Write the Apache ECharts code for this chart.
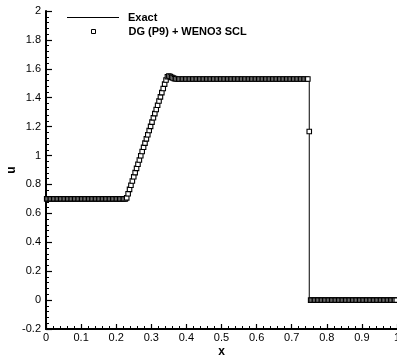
<!DOCTYPE html>
<html>
<head>
<meta charset="utf-8">
<script src="https://cdn.jsdelivr.net/npm/echarts@6/dist/echarts.min.js"></script>
<style>
html,body{margin:0;padding:0;background:#fff;}
#c{width:397px;height:357px;}
</style>
</head>
<body>
<div id="c"></div>
<script>
// Exact solution (piecewise linear)
var exactX = [0, 0.229, 0.343, 0.75, 0.75, 1];
var exactU = [0.7, 0.7, 1.53, 1.53, 0, 0];

// DG (P9) + WENO3 SCL sample points
var dgX = [
0.002,0.006,0.01,0.014,0.018,0.022,0.026,0.03,0.034,0.038,
0.042,0.046,0.05,0.054,0.058,0.062,0.066,0.07,0.074,0.078,
0.082,0.086,0.09,0.094,0.098,0.102,0.106,0.11,0.114,0.118,
0.122,0.126,0.13,0.134,0.138,0.142,0.146,0.15,0.154,0.158,
0.162,0.166,0.17,0.174,0.178,0.182,0.186,0.19,0.194,0.198,
0.202,0.206,0.21,0.214,0.218,0.222,0.226,0.23,0.234,0.238,
0.242,0.246,0.25,0.254,0.258,0.262,0.266,0.27,0.274,0.278,
0.282,0.286,0.29,0.294,0.298,0.302,0.306,0.31,0.314,0.318,
0.322,0.326,0.33,0.334,0.338,0.342,0.346,0.35,0.354,0.358,
0.362,0.366,0.37,0.374,0.378,0.382,0.386,0.39,0.394,0.398,
0.402,0.406,0.41,0.414,0.418,0.422,0.426,0.43,0.434,0.438,
0.442,0.446,0.45,0.454,0.458,0.462,0.466,0.47,0.474,0.478,
0.482,0.486,0.49,0.494,0.498,0.502,0.506,0.51,0.514,0.518,
0.522,0.526,0.53,0.534,0.538,0.542,0.546,0.55,0.554,0.558,
0.562,0.566,0.57,0.574,0.578,0.582,0.586,0.59,0.594,0.598,
0.602,0.606,0.61,0.614,0.618,0.622,0.626,0.63,0.634,0.638,
0.642,0.646,0.65,0.654,0.658,0.662,0.666,0.67,0.674,0.678,
0.682,0.686,0.69,0.694,0.698,0.702,0.706,0.71,0.714,0.718,
0.722,0.726,0.73,0.734,0.738,0.742,0.746,0.75,0.754,0.758,
0.762,0.766,0.77,0.774,0.778,0.782,0.786,0.79,0.794,0.798,
0.802,0.806,0.81,0.814,0.818,0.822,0.826,0.83,0.834,0.838,
0.842,0.846,0.85,0.854,0.858,0.862,0.866,0.87,0.874,0.878,
0.882,0.886,0.89,0.894,0.898,0.902,0.906,0.91,0.914,0.918,
0.922,0.926,0.93,0.934,0.938,0.942,0.946,0.95,0.954,0.958,
0.962,0.966,0.97,0.974,0.978,0.982,0.986,0.99,0.994,0.998
];
var dgU = [
0.7,0.7,0.7,0.7,0.7,0.7,0.7,0.7,0.7,0.7,
0.7,0.7,0.7,0.7,0.7,0.7,0.7,0.7,0.7,0.7,
0.7,0.7,0.7,0.7,0.7,0.7,0.7,0.7,0.7,0.7,
0.7,0.7,0.7,0.7,0.7,0.7,0.7,0.7,0.7,0.7,
0.7,0.7,0.7,0.7,0.7,0.7,0.7,0.7,0.7,0.7,
0.7,0.7,0.7,0.7,0.7,0.7,0.7,0.707,0.736,0.766,
0.795,0.824,0.853,0.882,0.911,0.940,0.969,0.999,1.028,1.057,
1.086,1.115,1.144,1.173,1.202,1.231,1.261,1.290,1.319,1.348,
1.377,1.406,1.435,1.464,1.494,1.523,1.545,1.550,1.547,1.541,
1.536,1.532,1.531,1.53,1.53,1.53,1.53,1.53,1.53,1.53,
1.53,1.53,1.53,1.53,1.53,1.53,1.53,1.53,1.53,1.53,
1.53,1.53,1.53,1.53,1.53,1.53,1.53,1.53,1.53,1.53,
1.53,1.53,1.53,1.53,1.53,1.53,1.53,1.53,1.53,1.53,
1.53,1.53,1.53,1.53,1.53,1.53,1.53,1.53,1.53,1.53,
1.53,1.53,1.53,1.53,1.53,1.53,1.53,1.53,1.53,1.53,
1.53,1.53,1.53,1.53,1.53,1.53,1.53,1.53,1.53,1.53,
1.53,1.53,1.53,1.53,1.53,1.53,1.53,1.53,1.53,1.53,
1.53,1.53,1.53,1.53,1.53,1.53,1.53,1.53,1.53,1.53,
1.53,1.53,1.53,1.53,1.53,1.53,1.53,1.166,0,0,
0,0,0,0,0,0,0,0,0,0,
0,0,0,0,0,0,0,0,0,0,
0,0,0,0,0,0,0,0,0,0,
0,0,0,0,0,0,0,0,0,0,
0,0,0,0,0,0,0,0,0,0,
0,0,0,0,0,0,0,0,0,0
];

var seriesNames = ['Exact', 'DG (P9) + WENO3 SCL'];

var exactData = exactX.map(function (x, i) { return [x, exactU[i]]; });
var dgData = dgX.map(function (x, i) { return [x, dgU[i]]; });

var chart = echarts.init(document.getElementById('c'), null, {renderer: 'canvas'});
var font = 'Liberation Sans, Arial, Helvetica, sans-serif';
var legendText = {color: '#000', fontFamily: font, fontWeight: 'bold', fontSize: 11, padding: [0, 0, 0, 4]};

chart.setOption({
  animation: false,
  backgroundColor: '#fff',
  grid: {left: 46, right: 0, top: 11, bottom: 28, containLabel: false, outerBoundsMode: 'none'},
  legend: [
    {data: [{name: seriesNames[0], icon: 'rect'}], left: 67, top: 12, padding: 0, itemWidth: 52, itemHeight: 1,
     itemStyle: {color: '#000', borderWidth: 0},
     textStyle: legendText, selectedMode: false},
    {data: [{name: seriesNames[1], icon: 'path://M0,0M52,4M24,0L28,0L28,4L24,4Z'}], left: 67, top: 26, padding: 0,
     itemWidth: 52, itemHeight: 4, symbolKeepAspect: false,
     itemStyle: {color: '#fff', borderColor: '#000', borderWidth: 1},
     textStyle: legendText, selectedMode: false}
  ],
  xAxis: {
    type: 'value', min: 0, max: 1, interval: 0.1,
    name: 'x', nameLocation: 'middle', nameGap: 17, nameMoveOverlap: false,
    nameTextStyle: {color: '#000', fontFamily: font, fontWeight: 'bold', fontSize: 12},
    axisLine: {show: true, onZero: false, lineStyle: {color: '#000', width: 2}},
    axisTick: {show: true, inside: true, length: 5, lineStyle: {color: '#000', width: 1.2}},
    minorTick: {show: true, splitNumber: 5, length: 3, lineStyle: {color: '#000', width: 1}},
    axisLabel: {color: '#000', fontFamily: font, fontSize: 11, margin: 3},
    splitLine: {show: false}
  },
  yAxis: {
    type: 'value', min: -0.2, max: 2, interval: 0.2,
    name: 'u', nameLocation: 'middle', nameGap: 28, nameRotate: 90, nameMoveOverlap: false,
    nameTextStyle: {color: '#000', fontFamily: font, fontWeight: 'bold', fontSize: 12},
    axisLine: {show: true, onZero: false, lineStyle: {color: '#000', width: 2}},
    axisTick: {show: true, inside: true, length: 6, lineStyle: {color: '#000', width: 1.2}},
    minorTick: {show: true, splitNumber: 5, length: 3, lineStyle: {color: '#000', width: 1}},
    axisLabel: {color: '#000', fontFamily: font, fontSize: 11, margin: 5},
    splitLine: {show: false}
  },
  series: [
    {
      name: seriesNames[0], type: 'line', data: exactData, symbol: 'none',
      lineStyle: {color: '#000', width: 1}, itemStyle: {color: '#000'}, z: 2
    },
    {
      name: seriesNames[1], type: 'scatter', data: dgData, symbol: 'rect', symbolSize: 4.5,
      itemStyle: {color: '#fff', borderColor: '#000', borderWidth: 1.1, opacity: 1}, z: 3
    }
  ]
});
</script>
</body>
</html>
